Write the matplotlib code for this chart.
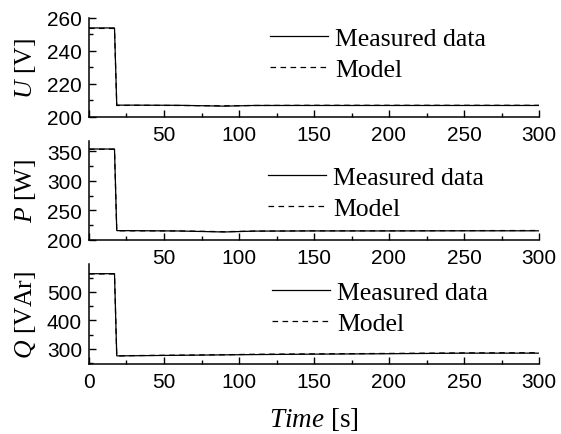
import matplotlib
matplotlib.use("Agg")
import matplotlib.pyplot as plt
from matplotlib.ticker import MultipleLocator, FixedLocator

# ---- data ----
t_meas = [0, 17, 18.5, 30, 60, 90, 110, 150, 200, 250, 300]
U_meas = [253.8, 253.8, 207.0, 207.0, 206.9, 206.4, 206.8, 206.8, 206.8, 206.8, 206.8]
U_model = [253.5, 253.5, 206.8, 206.9, 206.8, 206.6, 206.8, 206.9, 206.9, 206.9, 206.9]
P_meas = [353.5, 353.5, 215.8, 215.7, 215.2, 213.5, 215.0, 215.3, 215.3, 215.5, 215.5]
P_model = [353.0, 353.0, 215.5, 215.5, 215.3, 214.0, 215.0, 215.5, 215.5, 215.8, 216.0]
Q_meas = [564.0, 564.0, 275.5, 276.0, 277.5, 279.0, 280.0, 281.5, 283.0, 285.0, 285.0]
Q_model = [563.0, 563.0, 275.0, 276.5, 278.0, 279.5, 281.0, 282.5, 284.0, 286.0, 286.5]

x_ticks = [0, 50, 100, 150, 200, 250, 300]
legend_labels = ["Measured data", "Model"]
ylabels = [r"$\it{U}$ [V]", r"$\it{P}$ [W]", r"$\it{Q}$ [VAr]"]
xlabel_txt = r"$\it{Time}$ [s]"

plt.rcParams['mathtext.fontset'] = 'custom'
plt.rcParams['mathtext.it'] = 'Liberation Serif:italic'
plt.rcParams['mathtext.rm'] = 'Liberation Serif'

W, H = 561, 435
fig = plt.figure(figsize=(W / 100, H / 100), dpi=100)

def rect(top, bottom):
    return [89 / W, 1 - bottom / H, (539 - 89) / W, (bottom - top) / H]

# legend anchor: (left x pixel of handle, y pixel of upper text center)
panels = [
    dict(rect=rect(18.7, 117.7), ylim=(200, 260), major=20, minor=10,
         meas=U_meas, model=U_model, leg=(270, 40)),
    dict(rect=rect(141.7, 241.0), ylim=(200, 367.5), major=50, minor=25,
         meas=P_meas, model=P_model, leg=(268, 179)),
    dict(rect=rect(265.0, 364.7), ylim=(248, 598), major=100, minor=50,
         meas=Q_meas, model=Q_model, leg=(272, 294)),
]

tick_font = 'Liberation Sans'
serif = 'Liberation Serif'

for i, p in enumerate(panels):
    ax = fig.add_axes(p['rect'])
    l1, = ax.plot(t_meas, p['meas'], color='black', lw=0.9, solid_joinstyle='miter')
    l2, = ax.plot(t_meas, p['model'], color='black', lw=0.9, ls=(0, (4.5, 3.5)))
    ax.set_xlim(0, 300)
    ax.set_ylim(*p['ylim'])
    ax.spines['top'].set_visible(False)
    ax.spines['right'].set_visible(False)
    for s in ('left', 'bottom'):
        ax.spines[s].set_linewidth(1.1)
    ax.xaxis.set_major_locator(FixedLocator(x_ticks))
    ax.xaxis.set_minor_locator(MultipleLocator(25))
    ax.yaxis.set_major_locator(MultipleLocator(p['major']))
    ax.yaxis.set_minor_locator(MultipleLocator(p['minor']))
    if i < 2:
        ax.set_xticklabels([''] + [str(v) for v in x_ticks[1:]])
    else:
        ax.set_xticklabels([str(v) for v in x_ticks])
    ax.tick_params(which='both', direction='in', width=1.0)
    ax.tick_params(which='major', length=5, labelsize=15)
    ax.tick_params(axis='x', which='major', pad=6)
    ax.tick_params(axis='y', which='major', pad=5)
    ax.tick_params(which='minor', length=3)
    for lab in ax.get_xticklabels() + ax.get_yticklabels():
        lab.set_fontfamily(tick_font)
    ax.set_ylabel(ylabels[i], fontsize=18.5, family=serif)
    ax.yaxis.set_label_coords((38 - 89) / 450, 0.5)
    lx, ly = p['leg']
    ax.legend([l1, l2], legend_labels, loc='upper left',
              bbox_to_anchor=(lx / W, 1 - (ly - 12) / H),
              bbox_transform=fig.transFigure, frameon=False,
              prop={'family': serif, 'size': 18.5}, handlelength=2.25,
              handletextpad=0.28, labelspacing=0.33, borderpad=0, borderaxespad=0)
    if i == 2:
        ax.set_xlabel(xlabel_txt, fontsize=19.5, family=serif, labelpad=10)

fig.savefig('out.png', dpi=100)
